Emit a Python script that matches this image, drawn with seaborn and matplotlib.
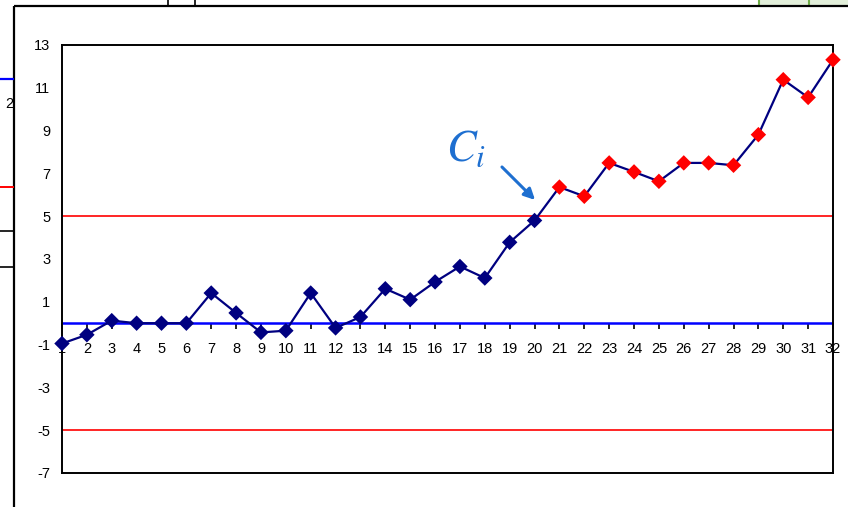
import matplotlib
matplotlib.use("Agg")
import matplotlib.pyplot as plt
from matplotlib.lines import Line2D
from matplotlib.patches import Rectangle
import numpy as np
import pandas as pd
import seaborn as sns

# CUSUM statistic per sample
samples = list(range(1, 33))
cusum = [-0.95, -0.54, 0.12, 0.0, 0.0, 0.0, 1.41, 0.48, -0.43, -0.35,
         1.41, -0.22, 0.29, 1.61, 1.10, 1.93, 2.65, 2.11, 3.78, 4.80,
         6.36, 5.93, 7.49, 7.07, 6.63, 7.49, 7.49, 7.38, 8.81, 11.38,
         10.55, 12.31]
center_line = 0
upper_limit = 5
lower_limit = -5
y_ticks = [-7, -5, -3, -1, 1, 3, 5, 7, 9, 11, 13]

df = pd.DataFrame({"sample": samples, "cusum": cusum})
df["signal"] = df["cusum"] > upper_limit

sns.set_theme(style="white")
plt.rcParams["font.family"] = ["Liberation Sans", "DejaVu Sans"]
plt.rcParams["mathtext.fontset"] = "stix"
plt.rcParams["axes.unicode_minus"] = False

fig = plt.figure(figsize=(8.48, 5.07), dpi=100)
ax = fig.add_axes([62 / 848, 1 - 473 / 507, (833 - 62) / 848, (473 - 45) / 507])

navy = "#000080"
ax.axhline(upper_limit, color="#FF0000", lw=1.2, zorder=1)
ax.axhline(lower_limit, color="#FF0000", lw=1.2, zorder=1)
ax.axhline(center_line, color="#0000FF", lw=1.8, zorder=2)

sns.lineplot(data=df, x="sample", y="cusum", color=navy, lw=1.6, ax=ax,
             zorder=3, legend=False)
sns.scatterplot(data=df, x="sample", y="cusum", hue="signal",
                palette={False: navy, True: "#FF0000"}, marker="D", s=62,
                linewidth=0, ax=ax, zorder=4, legend=False, clip_on=False)

ax.set_xlim(samples[0], samples[-1])
ax.set_ylim(y_ticks[0], y_ticks[-1])
ax.set_yticks(y_ticks)
ax.set_xlabel("")
ax.set_ylabel("")
ax.tick_params(axis="y", length=0, pad=8.5, labelsize=10.5, colors="black")
ax.set_xticks([])

for sp in ax.spines.values():
    sp.set_visible(True)
    sp.set_color("black")
    sp.set_linewidth(1.4)

# category axis crossing at zero
frac0 = (center_line - y_ticks[0]) / (y_ticks[-1] - y_ticks[0])
sec = ax.secondary_xaxis(frac0)
sec.set_xticks(samples)
sec.set_xticklabels([str(s) for s in samples])
sec.tick_params(axis="x", direction="out", length=4, width=1.2, pad=9.5,
                labelsize=10.5, colors="black")
sec.spines["bottom"].set_visible(False)

# annotation for the CUSUM curve
ax.annotate("", xy=(20.02, 5.76), xytext=(18.69, 7.30),
            arrowprops=dict(arrowstyle="-|>", color="#1E6FD0", lw=2.2,
                            mutation_scale=16, shrinkA=0, shrinkB=0))
ax.text(17.25, 8.1, r"$C_i$", color="#1E6FD0", fontsize=32,
        ha="center", va="center")

# surrounding worksheet frame
def fline(x0, y0, x1, y1, color="black", lw=1.5):
    fig.add_artist(Line2D([x0 / 848, x1 / 848], [1 - y0 / 507, 1 - y1 / 507],
                          color=color, lw=lw, transform=fig.transFigure,
                          solid_capstyle="butt"))

fig.add_artist(Rectangle((758 / 848, 1 - 6 / 507), 90 / 848, 6 / 507,
                         transform=fig.transFigure, color="#E2EFDA", lw=0))
fline(758.5, 0, 758.5, 6, color="#70AD47", lw=1.5)
fline(808.5, 0, 808.5, 6, color="#70AD47", lw=1.5)
fline(168, 0, 168, 6, lw=1.2)
fline(195, 0, 195, 6, lw=1.2)
fline(14, 6, 848, 6, lw=1.6)
fline(14, 6, 14, 507, lw=1.6)
fline(0, 79, 14, 79, color="#0000FF", lw=1.6)
fline(0, 187, 14, 187, color="#FF0000", lw=1.4)
fline(0, 231, 14, 231, lw=1.2)
fline(0, 267, 14, 267, lw=1.2)
fig.text(13 / 848, 1 - 104 / 507, "2", ha="right", va="center", fontsize=10.5,
         color="black")

fig.savefig("out.png", dpi=100)
